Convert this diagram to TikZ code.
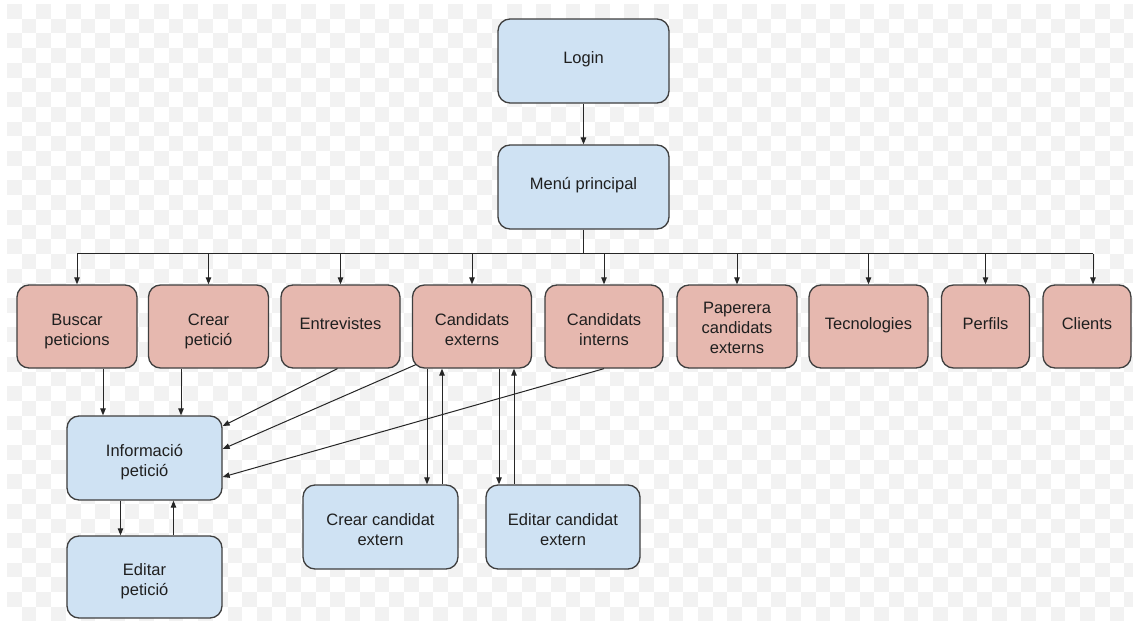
\documentclass[tikz,border=0pt]{standalone}
\usepackage{fontspec}
\setmainfont{Liberation Sans}
\usetikzlibrary{arrows.meta,calc}
\definecolor{boxblue}{HTML}{CFE2F3}
\definecolor{boxpink}{HTML}{E6B8AF}
\definecolor{edge}{HTML}{3F3F3F}
\definecolor{ink}{HTML}{1F1F1F}
\definecolor{checkgray}{HTML}{F2F2F2}
% centred block of lines, lowered by #1, taking no vertical room of its own
\newcommand\boxtext[2]{\raisebox{#1}[0pt][0pt]{\begin{tabular}{@{}c@{}}#2\end{tabular}}}
\newcommand\oneline[1]{\boxtext{-3pt}{#1}}
\newcommand\twolines[1]{\boxtext{-9pt}{#1}}
\newcommand\threelines[1]{\boxtext{-7.5pt}{#1}}
\tikzset{
  box/.style={draw=edge, line width=1.3pt, rounded corners=12pt,
    text=ink, font=\fontsize{16.5}{20}\selectfont, inner sep=0pt},
  bluebox/.style={box, fill=boxblue},
  pinkbox/.style={box, fill=boxpink},
  link/.style={draw=black!85, line width=1pt, -{Triangle[length=7pt,width=5.5pt]}},
  wire/.style={draw=black!85, line width=1pt},
  checker/.style={fill=checkgray},
}
\begin{document}
\begin{tikzpicture}[x=1pt,y=-1pt]
\useasboundingbox (0,0) rectangle (1133,621);
% faint checkered backdrop
\begin{scope}
  \clip (0,0) rectangle (1133,621);
  \fill[white] (0,0) rectangle (1133,621);
  \foreach \j in {0,...,41}{
    \pgfmathtruncatemacro\sh{mod(\j,2)}
    \foreach \i in {0,2,...,76}{
      \fill[checker] ({7+14.7*(\i+\sh)},{4+14.7*\j}) rectangle ++(14.7,14.7);
    }
  }
\end{scope}

% top level
\node[bluebox, minimum width=171pt, minimum height=84pt] (login) at (583.5,61) {\oneline{Login}};
\node[bluebox, minimum width=171pt, minimum height=84pt] (menu) at (583.5,187) {\oneline{Menú principal}};

% menu options
\node[pinkbox, minimum width=120pt, minimum height=83pt] (bp) at (77,326.5) {\twolines{Buscar\\peticions}};
\node[pinkbox, minimum width=120pt, minimum height=83pt] (cp) at (208.5,326.5) {\twolines{Crear\\petició}};
\node[pinkbox, minimum width=119pt, minimum height=83pt] (en) at (340.5,326.5) {\oneline{Entrevistes}};
\node[pinkbox, minimum width=119pt, minimum height=83pt] (ce) at (472,326.5) {\twolines{Candidats\\externs}};
\node[pinkbox, minimum width=118pt, minimum height=83pt] (ci) at (604,326.5) {\twolines{Candidats\\interns}};
\node[pinkbox, minimum width=120pt, minimum height=83pt] (pa) at (737,326.5) {\threelines{Paperera\\candidats\\externs}};
\node[pinkbox, minimum width=119pt, minimum height=83pt] (te) at (868.5,326.5) {\oneline{Tecnologies}};
\node[pinkbox, minimum width=88pt, minimum height=83pt] (pe) at (985.5,326.5) {\oneline{Perfils}};
\node[pinkbox, minimum width=88pt, minimum height=83pt] (cl) at (1087,326.5) {\oneline{Clients}};

% detail screens
\node[bluebox, minimum width=155pt, minimum height=84pt] (info) at (144.5,458) {\twolines{Informació\\petició}};
\node[bluebox, minimum width=155pt, minimum height=82pt] (ep) at (144.5,577) {\twolines{Editar\\petició}};
\node[bluebox, minimum width=155pt, minimum height=84pt] (cc) at (380.5,527) {\twolines{Crear candidat\\extern}};
\node[bluebox, minimum width=154pt, minimum height=84pt] (ec) at (563,527) {\twolines{Editar candidat\\extern}};

% login to menu
\draw[link] (login) -- (menu);

% distribution bus
\draw[wire] (menu.south) -- ++(0,24) coordinate (bus);
\coordinate (clin) at ([xshift=6pt]cl.north);
\draw[wire] (bus -| bp.north) -- (bus -| clin);
\foreach \n in {bp,cp,en,ce,ci,pa,te,pe}{
  \draw[link] (bus -| \n.north) -- (\n.north);
}
\draw[link] (bus -| clin) -- (clin);

% into request information
\draw[link] ([xshift=26pt]bp.south) -- ([xshift=26pt]bp.south |- info.north);
\draw[link] ([xshift=-27.5pt]cp.south) -- ([xshift=-27.5pt]cp.south |- info.north);
\draw[link] ([xshift=-3pt]en.south) -- ([yshift=32pt]info.east);
\draw[link] ([xshift=4pt,yshift=4pt]ce.south west) -- ([yshift=9pt]info.east);
\draw[link] (ci.south) -- ([yshift=-19pt]info.east);

% request information <-> edit
\draw[link] ([xshift=-24pt]info.south) -- ([xshift=-24pt]info.south |- ep.north);
\draw[link] ([xshift=29pt]ep.north) -- ([xshift=29pt]ep.north |- info.south);

% external candidates <-> create / edit
\draw[link] ([xshift=-45pt]ce.south) -- ([xshift=-45pt]ce.south |- cc.north);
\draw[link] ([xshift=61.5pt]cc.north) -- ([xshift=61.5pt]cc.north |- ce.south);
\draw[link] ([xshift=27pt]ce.south) -- ([xshift=27pt]ce.south |- ec.north);
\draw[link] ([xshift=-49pt]ec.north) -- ([xshift=-49pt]ec.north |- ce.south);
\end{tikzpicture}
\end{document}
